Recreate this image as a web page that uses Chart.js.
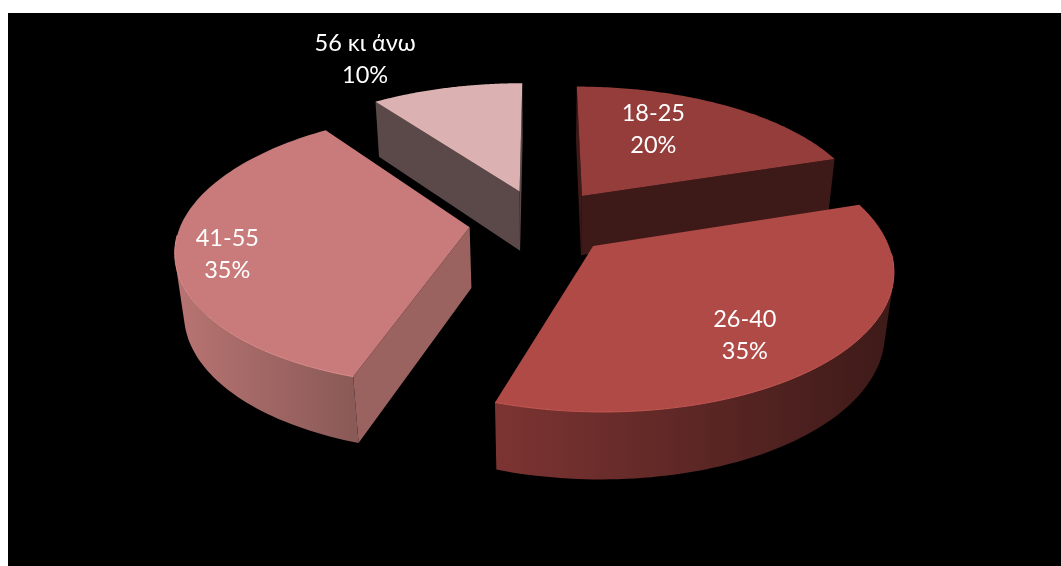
<!DOCTYPE html>
<html>
<head>
<meta charset="utf-8">
<style>
  html, body { margin: 0; padding: 0; background: #fff; overflow: hidden; }
  #box { position: absolute; left: 8px; top: 13px; width: 1053px; height: 553px; background: #000; }
</style>
</head>
<body>
<div id="box"><canvas id="age_chart"></canvas></div>
<script src="https://cdn.jsdelivr.net/npm/chart.js@4/dist/chart.umd.min.js"></script>
<script>
var categories = ["18-25", "26-40", "41-55", "56 κι άνω"];
var shares = [20, 35, 35, 10];

// top face, rim highlight, cut face, and left/right ends of the curved wall
var topColors = ["#943d3b", "#b04a47", "#c87b7a", "#dcb1b1"];
var rimColors = ["#943d3b", "#c45853", "#dd908d", "#dcb1b1"];
var cutColors = ["#3d1a17", "#3d1a17", "#9a6360", "#5a4948"];
var wallLeft = ["#5a2623", "#7c3432", "#b87472", "#5a4948"];
var wallRight = ["#3a1815", "#3d1a18", "#8a5a57", "#5a4948"];

// paint order, back slices first
var drawOrder = [3, 0, 2, 1];
// nudges of the labels from the middle of each slice, pixels
var labelNudgeX = [-11, 26, -82, -112];
var labelNudgeY = [-14, 31, 15, -72];

// fake perspective camera, pie plane to screen
var camX = 533, camY = 209, spanX = 288, spanY = 133, depth = 62, tilt = 0.15, sink = 0.025;
var explode = 46;   // pixels in chart.js terms, arc offset is offset/4

function project(u, v, z) {
    var w = 1 / (1 - tilt * v + sink * z);
    return { x: camX + spanX * u * w, y: camY + spanY * v * w + depth * z * w };
}

function polygon(ctx, pts) {
    ctx.beginPath();
    pts.forEach(function (p, n) { n ? ctx.lineTo(p.x, p.y) : ctx.moveTo(p.x, p.y); });
    ctx.closePath();
}

function area(pts) {
    var s = 0;
    for (var n = 0; n < pts.length; n++) {
        var a = pts[n], b = pts[(n + 1) % pts.length];
        s += a.x * b.y - b.x * a.y;
    }
    return s;
}

// unit plane geometry of one arc element, taken from the library
function sliceShape(arc) {
    var mid = (arc.startAngle + arc.endAngle) / 2;
    var pull = (arc.options.offset / 4) / arc.outerRadius;
    return {
        ox: Math.cos(mid) * pull,
        oy: Math.sin(mid) * pull,
        start: arc.startAngle,
        end: arc.endAngle,
        mid: mid
    };
}

function rimPoints(s, z) {
    var pts = [], steps = 90;
    for (var n = 0; n <= steps; n++) {
        var a = s.start + (s.end - s.start) * n / steps;
        pts.push(project(s.ox + Math.cos(a), s.oy + Math.sin(a), z));
    }
    return pts;
}

function drawWall(ctx, pts, style) {
    if (area(pts) <= 0) return;
    polygon(ctx, pts);
    ctx.fillStyle = style;
    ctx.fill();
}

function drawSlice(ctx, arc, i) {
    var s = sliceShape(arc);
    var top = rimPoints(s, 0), bottom = rimPoints(s, 1);
    var apexTop = project(s.ox, s.oy, 0), apexBottom = project(s.ox, s.oy, 1);
    var last = top.length - 1;

    // cut faces
    drawWall(ctx, [apexTop, apexBottom, bottom[0], top[0]], cutColors[i]);
    drawWall(ctx, [top[last], bottom[last], apexBottom, apexTop], cutColors[i]);

    // curved wall, only the part turned to the viewer, as one shape so no seams show
    var xs = top.map(function (p) { return p.x; });
    var grad = ctx.createLinearGradient(Math.min.apply(null, xs), 0, Math.max.apply(null, xs), 0);
    grad.addColorStop(0, wallLeft[i]);
    grad.addColorStop(1, wallRight[i]);
    var upper = [], lower = [];
    function flush() {
        if (upper.length > 1) {
            polygon(ctx, upper.concat(lower.reverse()));
            ctx.fillStyle = grad;
            ctx.fill();
        }
        upper = [];
        lower = [];
    }
    for (var n = 0; n < last; n++) {
        if (area([top[n], bottom[n], bottom[n + 1], top[n + 1]]) > 0) {
            if (!upper.length) { upper.push(top[n]); lower.push(bottom[n]); }
            upper.push(top[n + 1]);
            lower.push(bottom[n + 1]);
        } else {
            flush();
        }
    }
    flush();

    // top face
    polygon(ctx, [apexTop].concat(top));
    ctx.fillStyle = topColors[i];
    ctx.fill();

    // highlight on the front edge of the rim
    ctx.strokeStyle = rimColors[i];
    ctx.lineWidth = 1;
    ctx.beginPath();
    var started = false;
    top.forEach(function (p, n) {
        var a = s.start + (s.end - s.start) * n / last;
        if (Math.sin(a) < 0.05) { started = false; return; }
        started ? ctx.lineTo(p.x, p.y) : ctx.moveTo(p.x, p.y);
        started = true;
    });
    ctx.stroke();
}

function drawLabel(ctx, arc, i, total) {
    var s = sliceShape(arc);
    var p = project(s.ox + Math.cos(s.mid) * 0.55, s.oy + Math.sin(s.mid) * 0.55, 0);
    var pct = Math.round(shares[i] / total * 100) + "%";
    ctx.fillStyle = "#fff";
    ctx.font = "23.5px Lato, 'Noto Sans', sans-serif";
    ctx.textAlign = "center";
    ctx.textBaseline = "middle";
    ctx.fillText(categories[i], p.x + labelNudgeX[i], p.y + labelNudgeY[i] - 16);
    ctx.fillText(pct, p.x + labelNudgeX[i], p.y + labelNudgeY[i] + 16);
}

var pie3d = {
    id: "pie3d",
    beforeDatasetDraw: function (chart, args) {
        var ctx = chart.ctx;
        var arcs = chart.getDatasetMeta(args.index).data;
        drawOrder.forEach(function (i) { drawSlice(ctx, arcs[i], i); });
        var total = shares.reduce(function (a, b) { return a + b; }, 0);
        arcs.forEach(function (arc, i) { drawLabel(ctx, arc, i, total); });
        return false;
    }
};

var myChart = new Chart(document.getElementById("age_chart"), {
    type: "pie",
    data: {
        labels: categories,
        datasets: [{
            data: shares,
            backgroundColor: topColors,
            borderWidth: 0,
            offset: explode * 4
        }]
    },
    options: {
        responsive: true,
        maintainAspectRatio: false,
        animation: false,
        plugins: { legend: { display: false }, tooltip: { enabled: false } }
    },
    plugins: [pie3d]
});
</script>
</body>
</html>
